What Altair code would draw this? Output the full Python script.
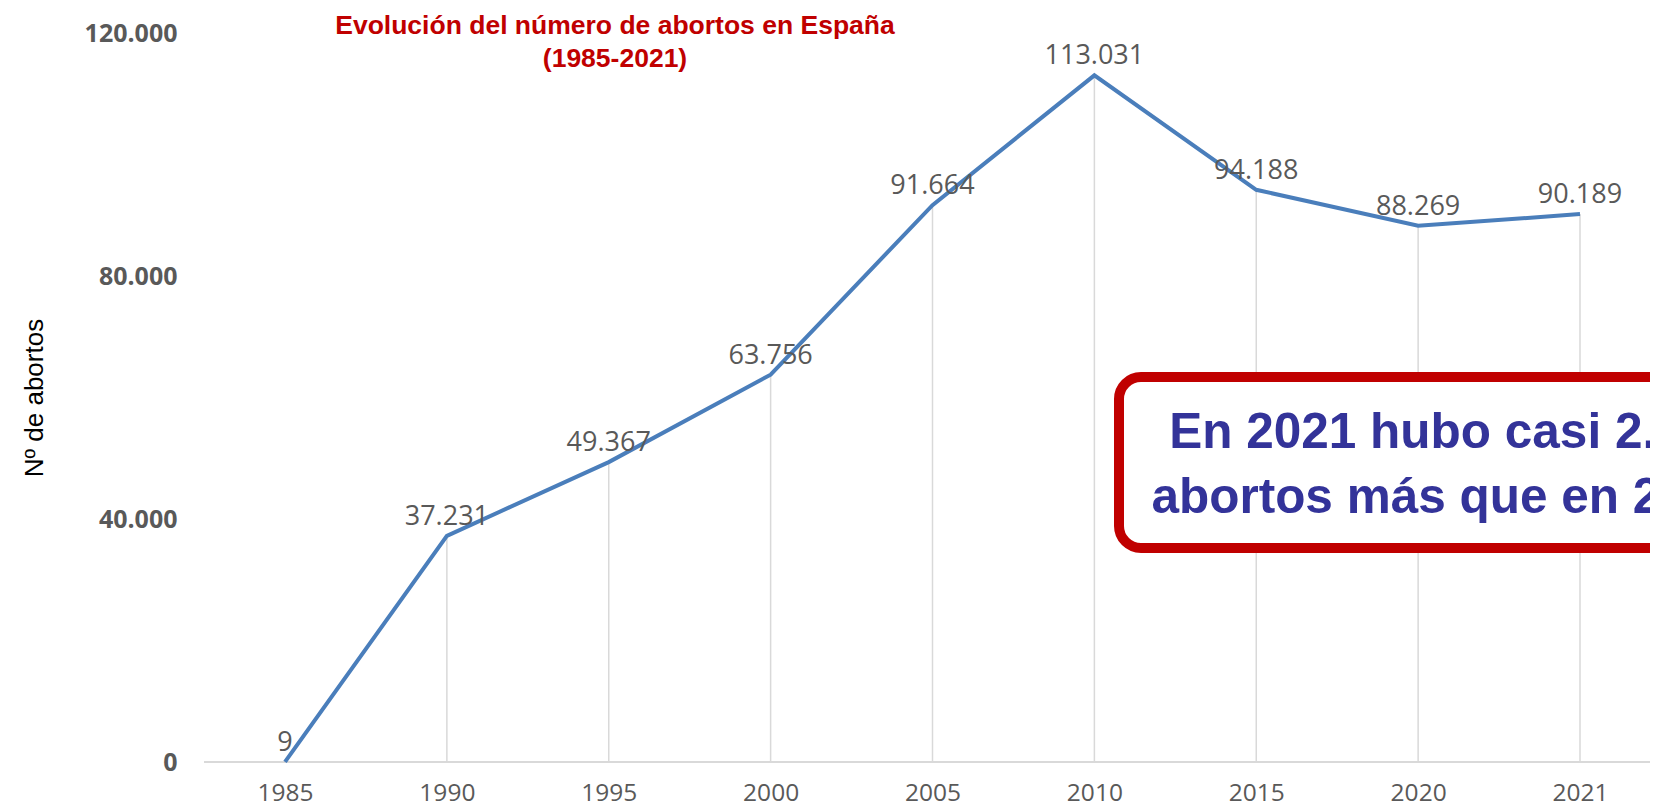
import altair as alt
import pandas as pd

# ---- data ----
years = ["1985", "1990", "1995", "2000", "2005", "2010", "2015", "2020", "2021"]
abortos = [9, 37231, 49367, 63756, 91664, 113031, 94188, 88269, 90189]
y_ticks = [0, 40000, 80000, 120000]
title_lines = ["Evolución del número de abortos en España", "(1985-2021)"]
box_lines = ["En 2021 hubo casi 2.000", "abortos más que en 2.020"]
y_title = "Nº de abortos"

df = pd.DataFrame({"year": years, "n": abortos})

W = 1446
H = 729
FMT = "replace(format({v}, ','), ',', '.')"

xscale = alt.Scale(type="point", domain=years, range=[81, 1376], padding=0)
yscale = alt.Scale(domain=[0, 120000], nice=False, zero=True)

x_enc = alt.X(
    "year:O",
    scale=xscale,
    sort=None,
    axis=alt.Axis(
        title=None, domain=False, ticks=False, tickSize=0, grid=False,
        labelFont="Open Sans", labelFontSize=24.5, labelColor="#595959",
        labelBaseline="middle", labelPadding=31, labelAngle=0,
    ),
)
y_enc = alt.Y(
    "n:Q",
    scale=yscale,
    axis=alt.Axis(
        title=y_title, values=y_ticks, domain=False, ticks=False, tickSize=0, grid=False,
        labelFont="Open Sans", labelFontSize=25, labelFontWeight="bold",
        labelColor="#595959", labelPadding=27,
        labelExpr=FMT.format(v="datum.value"),
        titleFont="Liberation Sans", titleFontSize=26, titleFontWeight="normal",
        titleColor="#000000", titleAngle=270, titleAlign="center",
        titleBaseline="middle", titleX=-170, titleY=H / 2,
    ),
)

base = alt.Chart(df)

axis_line = alt.Chart(alt.Data(values=[{}])).mark_rule(
    color="#D9D9D9", strokeWidth=2
).encode(x=alt.value(0), x2=alt.value(W + 20), y=alt.value(H))

drops = base.mark_rule(color="#D9D9D9", strokeWidth=1.5).encode(
    x=x_enc, y=y_enc, y2=alt.datum(0)
)

line = base.mark_line(color="#4A7EBB", strokeWidth=4).encode(x=x_enc, y=y_enc)

labels = base.transform_calculate(
    label=FMT.format(v="datum.n")
).mark_text(
    font="Open Sans", fontSize=27, color="#595959", baseline="middle", dy=-19
).encode(x=x_enc, y=y_enc, text="label:N")

title = alt.Chart(alt.Data(values=[{}])).mark_text(
    text=title_lines, font="Liberation Sans", fontSize=26.5, fontWeight="bold",
    color="#C00000", align="center", baseline="top", lineHeight=33,
).encode(x=alt.value(411), y=alt.value(-20))

box = alt.Chart(alt.Data(values=[{}])).mark_rect(
    fill="#FFFFFF", stroke="#C00000", strokeWidth=10, cornerRadius=22
).encode(x=alt.value(915), x2=alt.value(W + 60), y=alt.value(344), y2=alt.value(515))

box_text = alt.Chart(alt.Data(values=[{}])).mark_text(
    text=box_lines, font="Liberation Sans", fontSize=49.5, fontWeight="bold",
    color="#333399", align="center", baseline="top", lineHeight=65,
).encode(x=alt.value(1250), y=alt.value(376))

chart = alt.layer(
    axis_line, drops, line, labels, title, box, box_text
).properties(
    width=W, height=H,
    autosize=alt.AutoSizeParams(type="none"),
    padding={"left": 196, "top": 25, "right": 0, "bottom": 50},
    background="#FFFFFF",
).configure_view(stroke=None)

chart.save("out.html", embed_options={"renderer": "svg", "actions": False})
